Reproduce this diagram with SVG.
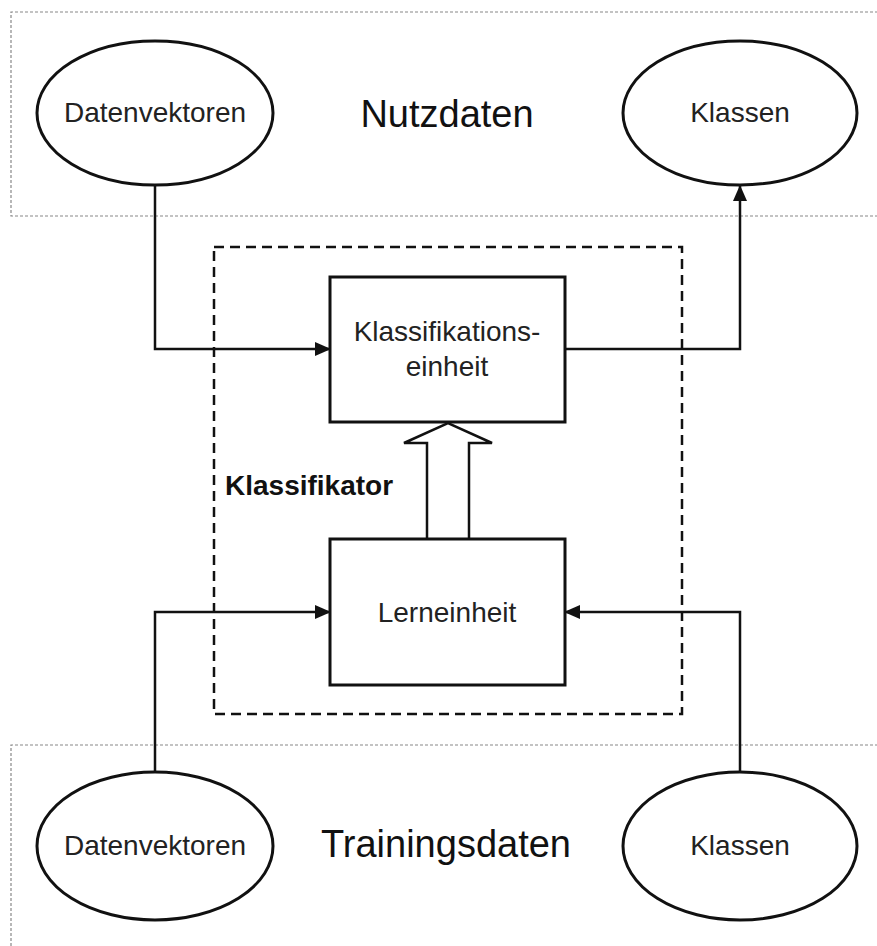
<svg xmlns="http://www.w3.org/2000/svg" width="877" height="946" viewBox="0 0 877 946">
<style>
.region{fill:none;stroke:#888;stroke-width:1.2;stroke-dasharray:3 2}
.node{fill:#fff;stroke:#111;stroke-width:3}
.lbl{font-family:"Liberation Sans",Arial,sans-serif;font-size:28px;fill:#222;text-anchor:middle}
.big{font-family:"Liberation Sans",Arial,sans-serif;font-size:38px;fill:#111;text-anchor:middle}
.conn{fill:none;stroke:#111;stroke-width:2.5}
</style>
<defs>
<marker id="arr" viewBox="0 0 16 14" refX="15" refY="7" markerWidth="16" markerHeight="14" markerUnits="userSpaceOnUse" orient="auto">
<path d="M0,0 L16,7 L0,14 Z" fill="#111"/>
</marker>
</defs>
<rect width="877" height="946" fill="#fff"/>
<g id="nutzdaten">
<path class="region" d="M878,12 H11 V216 H878"/>
<text class="big" x="447" y="127">Nutzdaten</text>
</g>
<g id="trainingsdaten">
<path class="region" d="M878,745 H11 V947"/>
<text class="big" x="446" y="857">Trainingsdaten</text>
</g>
<g id="klassifikator">
<rect x="214" y="247" width="468" height="467" fill="none" stroke="#111" stroke-width="2.5" stroke-dasharray="10 6"/>
<text x="225" y="495" font-family="'Liberation Sans',Arial,sans-serif" font-size="28" font-weight="bold" fill="#111">Klassifikator</text>
</g>
<g id="connectors">
<path class="conn" d="M155,186 V349 H330" marker-end="url(#arr)"/>
<path class="conn" d="M565,349 H740 V186" marker-end="url(#arr)"/>
<path class="conn" d="M155,772 V612 H330" marker-end="url(#arr)"/>
<path class="conn" d="M740,772 V612 H565" marker-end="url(#arr)"/>
<path d="M427,539 V443 H404 L448,423 L492,443 H469 V539" fill="#fff" stroke="#111" stroke-width="2.5" stroke-linejoin="miter"/>
</g>
<g id="datenvektoren-nutz">
<ellipse class="node" cx="155" cy="113" rx="118" ry="72"/>
<text class="lbl" x="155" y="122">Datenvektoren</text>
</g>
<g id="klassen-nutz">
<ellipse class="node" cx="740" cy="113" rx="117" ry="72"/>
<text class="lbl" x="740" y="122">Klassen</text>
</g>
<g id="datenvektoren-train">
<ellipse class="node" cx="155" cy="846" rx="118" ry="74"/>
<text class="lbl" x="155" y="855">Datenvektoren</text>
</g>
<g id="klassen-train">
<ellipse class="node" cx="740" cy="846" rx="117" ry="74"/>
<text class="lbl" x="740" y="855">Klassen</text>
</g>
<g id="klassifikationseinheit">
<rect class="node" x="330" y="277" width="235" height="145"/>
<text class="lbl" x="447" y="341">Klassifikations-</text>
<text class="lbl" x="447" y="376">einheit</text>
</g>
<g id="lerneinheit">
<rect class="node" x="330" y="539" width="235" height="146"/>
<text class="lbl" x="447" y="622">Lerneinheit</text>
</g>
</svg>
